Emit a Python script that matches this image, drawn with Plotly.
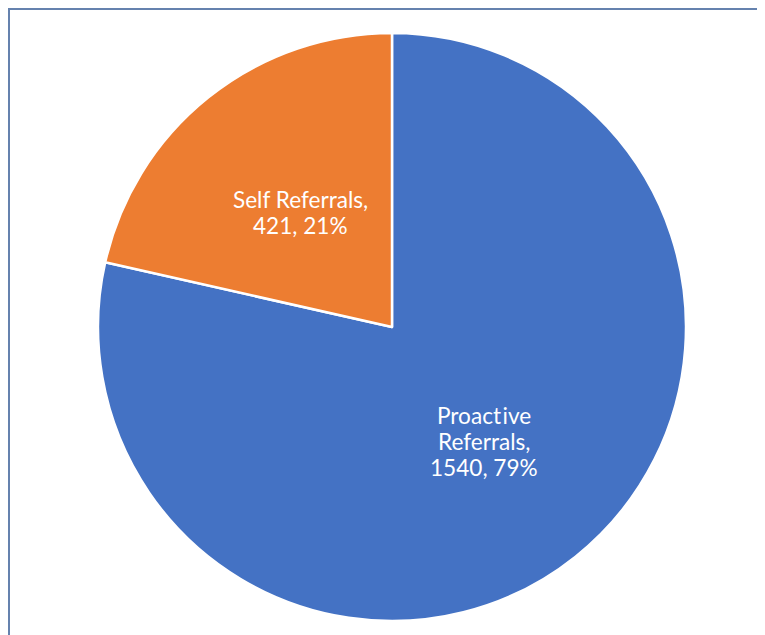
import math
import plotly.graph_objects as go

categories = ["Proactive Referrals", "Self Referrals"]
values = [1540, 421]
label_lines = [
    ["Proact\u200aive", "Referrals,", "1540, 79%"],
    ["Self Referrals,", "421, 21%"],
]
colors = ["#4472C4", "#ED7D31"]

W, H = 765, 635
cx, cy, r = 384, 319, 294
FONT_SIZE = 22.6
LINE_GAP = 26

fig = go.Figure(go.Pie(
    labels=categories,
    values=values,
    textinfo="none",
    sort=False,
    direction="clockwise",
    rotation=0,
    marker=dict(colors=colors, line=dict(color="white", width=2.5)),
    domain=dict(x=[(cx - r) / W, (cx + r) / W], y=[1 - (cy + r) / H, 1 - (cy - r) / H]),
    showlegend=False,
    hoverinfo="label+value+percent",
))

# Data labels placed at half radius along each slice's bisector (computed from the values)
total = sum(values)
cum = 0
for v, lines in zip(values, label_lines):
    mid = 2 * math.pi * (cum + v / 2) / total
    cum += v
    lx = cx + 0.5 * r * math.sin(mid)
    ly = cy - 0.5 * r * math.cos(mid)
    n = len(lines)
    for i, line in enumerate(lines):
        py = ly + (i - (n - 1) / 2) * LINE_GAP
        fig.add_annotation(
            x=lx / W, y=1 - py / H, xref="paper", yref="paper",
            text=line, showarrow=False, xanchor="center", yanchor="middle",
            font=dict(family="Lato", size=FONT_SIZE, color="white"),
        )

fig.add_shape(type="rect", xref="paper", yref="paper",
              x0=1 / W, x1=1.05, y0=-0.05, y1=1 - 1 / H,
              line=dict(color="#6582AE", width=2), fillcolor="rgba(0,0,0,0)")

fig.update_layout(
    width=W, height=H,
    margin=dict(l=0, r=0, t=0, b=0),
    paper_bgcolor="white",
    plot_bgcolor="white",
)

fig.write_html("out.html")
